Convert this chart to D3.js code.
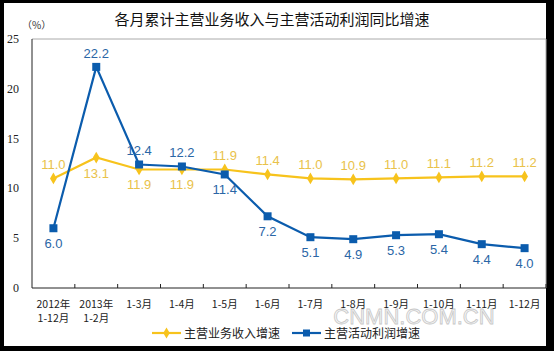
<!DOCTYPE html>
<html>
<head>
<meta charset="utf-8">
<script src="https://cdn.jsdelivr.net/npm/d3@7"></script>
<style>
  body { margin: 0; background: #000; }
  svg { display: block; }
</style>
</head>
<body>
<div id="chart"></div>
<script>
var categories = [
    ["2012年", "1-12月"], ["2013年", "1-2月"], ["1-3月"], ["1-4月"], ["1-5月"], ["1-6月"],
    ["1-7月"], ["1-8月"], ["1-9月"], ["1-10月"], ["1-11月"], ["1-12月"]
];
var revenue = [11.0, 13.1, 11.9, 11.9, 11.9, 11.4, 11.0, 10.9, 11.0, 11.1, 11.2, 11.2];
var profit = [6.0, 22.2, 12.4, 12.2, 11.4, 7.2, 5.1, 4.9, 5.3, 5.4, 4.4, 4.0];
// label above (-1) or below (1) the point
var revenueLabelPos = [-1, 1, 1, 1, -1, -1, -1, -1, -1, -1, -1, -1];
var profitLabelPos = [1, -1, -1, -1, 1, 1, 1, 1, 1, 1, 1, 1];
var yTicks = [0, 5, 10, 15, 20, 25];
var seriesNames = ["主营业务收入增速", "主营活动利润增速"];

var ctx = {
    w: 554, h: 351,
    left: 32, right: 546, top: 39, bottom: 288,
    YELLOW: "#F7C31C", YELLOW_TXT: "#E9C24A",
    BLUE: "#0B5CAD", BLUE_TXT: "#2A66A6"
};

var svgEl = d3.select("#chart").append("svg")
    .attr("width", ctx.w)
    .attr("height", ctx.h);

// black frame round a white card
svgEl.append("rect").attr("width", ctx.w).attr("height", ctx.h).attr("fill", "#000");
svgEl.append("rect").attr("x", 4).attr("y", 3).attr("width", 542).attr("height", 343).attr("fill", "#fff");

var x = d3.scaleBand()
    .domain(d3.range(categories.length))
    .range([ctx.left, ctx.right]);
var y = d3.scaleLinear()
    .domain([0, 25])
    .range([ctx.bottom, ctx.top]);

// title
svgEl.append("text")
    .attr("x", 272).attr("y", 25)
    .attr("text-anchor", "middle")
    .attr("font-family", "Noto Sans CJK SC")
    .attr("font-size", "15px")
    .attr("fill", "#111")
    .text("各月累计主营业务收入与主营活动利润同比增速");

svgEl.append("text")
    .attr("x", 22).attr("y", 29)
    .attr("font-family", "Noto Sans CJK SC")
    .attr("font-size", "10px")
    .attr("fill", "#333")
    .text("（%）");

// plot frame (top/right grey)
svgEl.append("path")
    .attr("d", "M" + ctx.left + "," + ctx.top + "H" + ctx.right + "V" + ctx.bottom)
    .attr("fill", "none")
    .attr("stroke", "#aaa")
    .attr("stroke-width", 1);

// y axis labels
svgEl.selectAll(".yLabel")
    .data(yTicks)
    .enter()
    .append("text")
    .attr("class", "yLabel")
    .attr("x", 19)
    .attr("y", (d) => y(d) + 4)
    .attr("text-anchor", "end")
    .attr("font-family", "Liberation Serif")
    .attr("font-size", "12px")
    .attr("fill", "#222")
    .text((d) => d);

// axes lines
svgEl.append("line")
    .attr("x1", ctx.left).attr("x2", ctx.left)
    .attr("y1", ctx.top).attr("y2", ctx.bottom)
    .attr("stroke", "#222");
svgEl.append("line")
    .attr("x1", ctx.left).attr("x2", ctx.right)
    .attr("y1", ctx.bottom).attr("y2", ctx.bottom)
    .attr("stroke", "#222");

// x ticks (pointing up)
svgEl.selectAll(".xTick")
    .data(d3.range(1, categories.length + 1))
    .enter()
    .append("line")
    .attr("class", "xTick")
    .attr("x1", (d) => ctx.left + d * x.bandwidth())
    .attr("x2", (d) => ctx.left + d * x.bandwidth())
    .attr("y1", ctx.bottom)
    .attr("y2", ctx.bottom - 4)
    .attr("stroke", "#222");

// watermark (drawn under the labels)
svgEl.append("text")
    .attr("x", 414).attr("y", 324)
    .attr("text-anchor", "middle")
    .attr("font-family", "Liberation Sans")
    .attr("font-size", "22px")
    .attr("fill", "#f6f6f6")
    .attr("stroke", "#c8c8c8")
    .attr("stroke-width", 0.8)
    .text("CNMN.COM.CN");

// x labels
categories.forEach(function(c, i) {
    c.forEach(function(s, k) {
        svgEl.append("text")
            .attr("x", x(i) + x.bandwidth() / 2)
            .attr("y", 308 + k * 14)
            .attr("text-anchor", "middle")
            .attr("font-family", "Noto Sans CJK SC")
            .attr("font-size", "10.5px")
            .attr("fill", "#222")
            .text(s);
    });
});

var cx = (d, i) => x(i) + x.bandwidth() / 2;
var line = d3.line().x(cx).y((d) => y(d));

// revenue series (yellow, diamonds)
svgEl.append("path")
    .attr("d", line(revenue))
    .attr("fill", "none")
    .attr("stroke", ctx.YELLOW)
    .attr("stroke-width", 2.2);
svgEl.selectAll(".revMark")
    .data(revenue)
    .enter()
    .append("path")
    .attr("class", "revMark")
    .attr("transform", (d, i) => "translate(" + cx(d, i) + "," + y(d) + ")")
    .attr("d", d3.symbol().type(d3.symbolDiamond).size(40))
    .attr("fill", ctx.YELLOW);

// profit series (blue, squares)
svgEl.append("path")
    .attr("d", line(profit))
    .attr("fill", "none")
    .attr("stroke", ctx.BLUE)
    .attr("stroke-width", 2.2);
svgEl.selectAll(".profMark")
    .data(profit)
    .enter()
    .append("rect")
    .attr("class", "profMark")
    .attr("x", (d, i) => cx(d, i) - 4)
    .attr("y", (d) => y(d) - 4)
    .attr("width", 8)
    .attr("height", 8)
    .attr("fill", ctx.BLUE);

// value labels
var addLabels = function(data, pos, color) {
    svgEl.selectAll(null)
        .data(data)
        .enter()
        .append("text")
        .attr("x", cx)
        .attr("y", (d, i) => y(d) + (pos[i] < 0 ? -9 : 20))
        .attr("text-anchor", "middle")
        .attr("font-family", "Liberation Sans")
        .attr("font-size", "13px")
        .attr("fill", color)
        .text((d) => d.toFixed(1));
};
addLabels(revenue, revenueLabelPos, ctx.YELLOW_TXT);
addLabels(profit, profitLabelPos, ctx.BLUE_TXT);

// legend
var legend = [
    { name: seriesNames[0], color: ctx.YELLOW, x: 152, shape: "diamond" },
    { name: seriesNames[1], color: ctx.BLUE, x: 292, shape: "square" }
];
legend.forEach(function(l) {
    var g = svgEl.append("g").attr("transform", "translate(" + l.x + ",333)");
    g.append("line").attr("x1", 0).attr("x2", 29).attr("stroke", l.color).attr("stroke-width", 2.2);
    if (l.shape === "diamond") {
        g.append("path").attr("transform", "translate(14.5,0)")
            .attr("d", d3.symbol().type(d3.symbolDiamond).size(36)).attr("fill", l.color);
    } else {
        g.append("rect").attr("x", 11).attr("y", -3.5).attr("width", 7).attr("height", 7).attr("fill", l.color);
    }
    g.append("text")
        .attr("x", 32).attr("y", 5)
        .attr("font-family", "Noto Sans CJK SC")
        .attr("font-size", "12px")
        .attr("fill", "#222")
        .text(l.name);
});
</script>
</body>
</html>
